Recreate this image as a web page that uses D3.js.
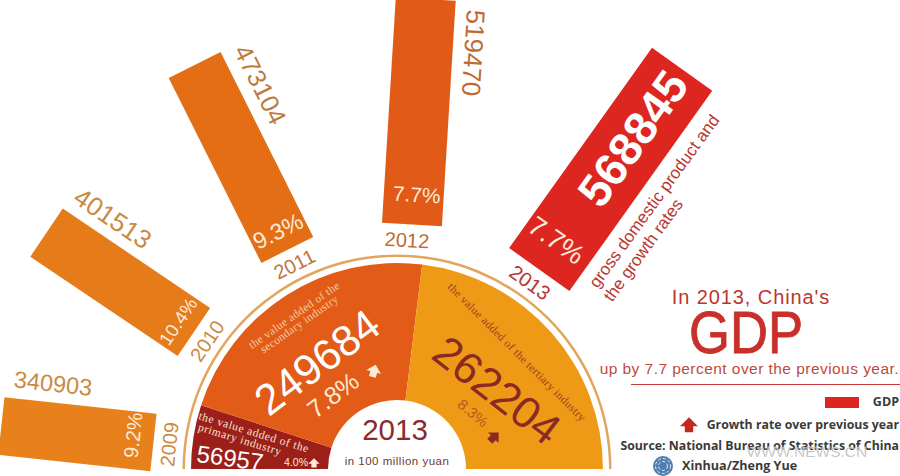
<!DOCTYPE html>
<html><head><meta charset="utf-8">
<script src="https://cdn.jsdelivr.net/npm/d3@7/dist/d3.min.js"></script>
<style>html,body{margin:0;padding:0;background:#fff;overflow:hidden}svg{display:block}text{font-family:"Liberation Sans",Arial,sans-serif}</style>
</head><body><svg id="c" width="900" height="476"></svg>
<script>
// --- data ---
const years = [2009, 2010, 2011, 2012, 2013];
const gdp = [340903, 401513, 473104, 519470, 568845];
const growth = ["9.2%", "10.4%", "9.3%", "7.7%", "7.7%"];
const sectors = ["primary", "secondary", "tertiary"];
const sectorValues = [56957, 249684, 262204];
const sectorGrowth = ["4.0%", "7.8%", "8.3%"];
const centerYear = "2013";
const unit = "in 100 million yuan";

// --- layout ---
const cx = 397, cy = 469;
const barColors = ["#E8811C", "#E67B1A", "#E46E16", "#E25A17", "#DD2620"];
const valueColors = ["#CB8A3E", "#C98A42", "#C07A3E", "#BF6A35", "#FFFFFF"];
const yearColors = ["#CB8A3E", "#C98A42", "#BF7440", "#BF6A35", "#B8352F"];
const barAngles = [6.2, 34, 63.4, 93.5, 125.5];
const barWidths = [58, 58, 58, 60, 74];
const pctR = [266, 264, 266, 275, 279];
const pctOff = [5, 0, 0, 3, -3];
const pctSize = [20, 18.5, 23, 21, 27];
const valueSize = [23.5, 26, 25.5, 26];
const valueDrop = [47, 47, 47, 51];
const yearOff = [0, 0, 0, -4, 0];
const barInner = 245;

const svg = d3.select("#c");
const length = d3.scaleLinear().domain([340903, 568845]).range([153, 246]);
const angleOf = d3.scaleOrdinal().domain(years).range(barAngles);
const rows = years.map((y, i) => ({ y, v: gdp[i], g: growth[i], i }));

const root = svg.append("g").attr("transform", `translate(${cx},${cy})`);
const bars = root.selectAll("g.bar").data(rows).join("g").attr("class", "bar")
  .attr("transform", d => `rotate(${angleOf(d.y) - 90})`);

bars.append("rect")
  .attr("x", d => -barWidths[d.i] / 2).attr("width", d => barWidths[d.i])
  .attr("y", d => -(barInner + length(d.v))).attr("height", d => length(d.v))
  .attr("fill", d => barColors[d.i]);

bars.append("text").text(d => d.y)
  .attr("x", d => yearOff[d.i]).attr("y", -229).attr("dy", ".35em").attr("text-anchor", "middle")
  .attr("font-size", 20).attr("fill", d => yearColors[d.i]);

bars.append("text").text(d => d.g)
  .attr("x", d => pctOff[d.i]).attr("y", d => -pctR[d.i]).attr("dy", ".35em").attr("text-anchor", "middle")
  .attr("font-size", d => pctSize[d.i]).attr("fill", "#FBEBD8");

// value labels run along the side of the bars; the last sits inside its bar
bars.filter(d => d.i < 4).append("text").text(d => d.v)
  .attr("transform", d => `translate(${48 + d.i},${-(barInner + length(d.v) - valueDrop[d.i])}) rotate(90)`)
  .attr("dy", ".35em").attr("text-anchor", "middle")
  .attr("font-size", d => valueSize[d.i]).attr("fill", d => valueColors[d.i]);

bars.filter(d => d.i === 4).append("text").text(d => d.v)
  .attr("transform", "translate(0,-406) rotate(-90)")
  .attr("dy", ".35em").attr("text-anchor", "middle")
  .attr("font-size", 46).attr("font-weight", "bold").attr("fill", "#fff");

// semicircle
svg.append("clipPath").attr("id", "half").append("rect").attr("width", 900).attr("height", cy);
const half = svg.append("g").attr("clip-path", "url(#half)");
const pie = d3.pie().sort(null).startAngle(-Math.PI / 2).endAngle(Math.PI / 2);
const arc = d3.arc().innerRadius(69).outerRadius(206);
const sliceColors = ["#9C1F1A", "#E25C17", "#EF9A17"];
half.append("g").attr("transform", `translate(${cx},${cy})`)
  .selectAll("path").data(pie(sectorValues)).join("path")
  .attr("d", arc).attr("fill", (d, i) => sliceColors[i]);
half.append("path").attr("transform", `translate(${cx},${cy})`)
  .attr("d", d3.arc().innerRadius(212).outerRadius(214.5).startAngle(-Math.PI / 2).endAngle(Math.PI / 2)())
  .attr("fill", "#E2A55E");

function label(parent, s, x, y, rot, size, fill, extra = {}) {
  const t = parent.append("text").text(s)
    .attr("transform", `translate(${x},${y}) rotate(${rot})`)
    .attr("dy", ".35em").attr("text-anchor", extra.anchor || "middle")
    .attr("font-size", size).attr("fill", fill);
  if (extra.serif) t.style("font-family", '"Liberation Serif",serif');
  if (extra.bold) t.attr("font-weight", "bold");
  if (extra.ls) t.attr("letter-spacing", extra.ls);
  if (extra.font) t.style("font-family", extra.font);
  if (extra.stroke) t.attr("stroke", fill).attr("stroke-width", extra.stroke);
  if (extra.fit) t.attr("textLength", extra.fit).attr("lengthAdjust", "spacingAndGlyphs");
  return t;
}
const arrowD = "M0,-6.5L7.5,1L3.5,1L3.5,6L-3.5,6L-3.5,1L-7.5,1Z";
function arrow(parent, x, y, rot, k, fill) {
  parent.append("path").attr("d", arrowD)
    .attr("transform", `translate(${x},${y}) rotate(${rot}) scale(${k})`).attr("fill", fill);
}

// sector labels
label(half, "the value added of the", 254, 432, 17, 11.5, "#F8E4D2", { serif: true, ls: .6 });
label(half, "primary industry", 240, 439, 17, 11.5, "#F8E4D2", { serif: true, ls: .6 });
label(half, sectorValues[0], 230, 458, 8, 24, "#fff");
label(half, sectorGrowth[0], 296, 462, 0, 10.5, "#FBEBD8");
arrow(half, 314, 463, 0, .75, "#FBEBD8");

label(half, "the value added of the", 294, 315, -35, 11.5, "#F6C9A4", { serif: true, ls: .3 });
label(half, "secondary industry", 299, 324, -35, 11.5, "#F6C9A4", { serif: true, ls: .3 });
label(half, sectorValues[1], 317, 362, -37, 43, "#fff");
label(half, sectorGrowth[1], 333, 395, -37, 25, "#FBEBD8");
arrow(half, 374, 371, 15, 1, "#FBEBD8");

label(half, "the value added of the tertiary industry", 517, 352, 45, 11.5, "#A0401F", { serif: true, ls: .3 });
label(half, sectorValues[2], 497, 390, 37.5, 44, "#8B2A25");
label(half, sectorGrowth[2], 473, 413, 40, 15, "#B9591A");
arrow(half, 494, 437, 45, 1, "#8B2A25");

label(half, centerYear, 395, 430, 0, 29.5, "#8C2A2E");
label(half, unit, 397, 461, 0, 11.5, "#6E3A30", { ls: .5 });

// side note on the GDP bar
label(svg, "gross domestic product and", 654, 201, -54, 17, "#B8352F");
label(svg, "the growth rates", 643, 250, -54, 17, "#B8352F");

// title
label(svg, "In 2013, China's", 751, 297, 0, 20, "#BE3530", { ls: .9 });
label(svg, "GDP", 746, 333, 0, 58.5, "#C9302B", { fit: 114, stroke: .9 });
label(svg, "up by 7.7 percent over the previous year.", 899, 369, 0, 15.5, "#BE4A40", { ls: .45, anchor: "end" });
svg.append("line").attr("x1", 631).attr("x2", 900).attr("y1", 384.5).attr("y2", 384.5)
  .attr("stroke", "#C8383A").attr("stroke-width", 1.2);

// legend / credits
const creditFont = '"Open Sans",sans-serif', creditInk = "#3A3A3A";
svg.append("rect").attr("x", 825).attr("y", 397).attr("width", 34).attr("height", 11).attr("fill", "#DD2620");
label(svg, "GDP", 899, 402, 0, 12.5, creditInk, { anchor: "end", bold: true, font: creditFont });
arrow(svg, 689, 425, 0, 1.2, "#C4281F");
label(svg, "Growth rate over previous year", 899, 425, 0, 12.3, creditInk, { anchor: "end", bold: true, font: creditFont });
label(svg, "Source: National Bureau of Statistics of China", 899, 446, 0, 12.3, creditInk, { anchor: "end", bold: true, font: creditFont });
label(svg, "Xinhua/Zheng Yue", 682, 466, 0, 12.6, creditInk, { anchor: "start", bold: true, font: creditFont });

const logo = svg.append("g").attr("transform", "translate(663,466)");
logo.append("circle").attr("r", 10).attr("fill", "#4F7FB0");
[7.5, 4.5].forEach(r => logo.append("circle").attr("r", r).attr("fill", "none").attr("stroke", "#E6EEF5").attr("stroke-width", 1).attr("stroke-dasharray", "3 2"));

svg.append("text").text("WWW.NEWS.CN").attr("x", 807).attr("y", 452).attr("dy", ".35em")
  .attr("text-anchor", "middle").attr("font-size", 15.5).attr("fill", "#A0A0A0").attr("fill-opacity", .85)
  .attr("stroke", "#fff").attr("stroke-width", .3);
</script></body></html>
